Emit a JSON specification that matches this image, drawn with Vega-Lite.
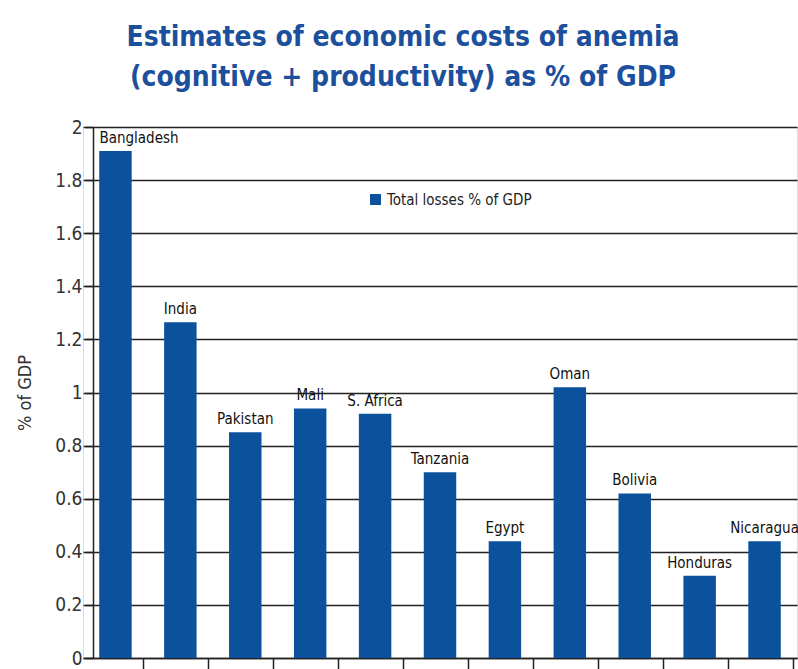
{
  "$schema": "https://vega.github.io/schema/vega-lite/v6.json",
  "autosize": "none",
  "width": 714,
  "height": 531,
  "padding": {"left": 83, "top": 127, "right": 1, "bottom": 11},
  "background": "white",
  "title": {
    "text": ["Estimates of economic costs of anemia", "(cognitive + productivity) as % of GDP"],
    "font": "DejaVu Sans Condensed, Liberation Sans Narrow, sans-serif",
    "fontSize": 28,
    "fontWeight": "bold",
    "color": "#1c4f9c",
    "lineHeight": 40,
    "anchor": "middle",
    "frame": "group",
    "dx": -37,
    "offset": 26
  },
  "data": {
    "values": [
      {"country": "Bangladesh", "value": 1.91},
      {"country": "India", "value": 1.265},
      {"country": "Pakistan", "value": 0.85},
      {"country": "Mali", "value": 0.94},
      {"country": "S. Africa", "value": 0.92},
      {"country": "Tanzania", "value": 0.70},
      {"country": "Egypt", "value": 0.44},
      {"country": "Oman", "value": 1.02},
      {"country": "Bolivia", "value": 0.62},
      {"country": "Honduras", "value": 0.31},
      {"country": "Nicaragua", "value": 0.44}
    ]
  },
  "encoding": {
    "x": {
      "field": "country",
      "type": "nominal",
      "sort": null,
      "scale": {"paddingInner": 0.5, "paddingOuter": 0.25},
      "axis": {
        "labels": false,
        "title": null,
        "tickOffset": 28,
        "tickSize": 11,
        "tickColor": "#222",
        "tickWidth": 1.5,
        "domainColor": "#222",
        "domainWidth": 1.5
      }
    },
    "y": {
      "field": "value",
      "type": "quantitative",
      "scale": {"domain": [0, 2], "nice": false},
      "axis": {
        "values": [0, 0.2, 0.4, 0.6, 0.8, 1, 1.2, 1.4, 1.6, 1.8, 2],
        "format": "~g",
        "offset": -10,
        "title": "% of GDP",
        "titleFont": "DejaVu Sans Condensed, Liberation Sans Narrow, sans-serif",
        "titleFontSize": 18,
        "titleFontWeight": "normal",
        "titleColor": "#333",
        "titlePadding": 20,
        "labelFont": "DejaVu Sans Condensed, Liberation Sans Narrow, sans-serif",
        "labelFontSize": 19,
        "labelColor": "#333",
        "labelPadding": 3,
        "tickSize": 8,
        "tickColor": "#222",
        "tickWidth": 1.5,
        "domainColor": "#222",
        "domainWidth": 1.5,
        "grid": true,
        "gridColor": "#222",
        "gridWidth": 1.5
      }
    }
  },
  "layer": [
    {
      "mark": {"type": "bar"},
      "encoding": {
        "color": {
          "datum": "Total losses % of GDP",
          "scale": {"range": ["#0b519c"]},
          "legend": {
            "title": null,
            "orient": "none",
            "legendX": 285,
            "legendY": 65,
            "symbolType": "square",
            "symbolSize": 120,
            "labelFont": "DejaVu Sans Condensed, Liberation Sans Narrow, sans-serif",
            "labelFontSize": 15,
            "labelColor": "#222"
          }
        }
      }
    },
    {
      "transform": [{"filter": "datum.country !== 'Bangladesh'"}],
      "mark": {"type": "text", "baseline": "bottom", "dy": -5, "font": "DejaVu Sans Condensed, Liberation Sans Narrow, sans-serif", "fontSize": 15, "color": "#111"},
      "encoding": {"text": {"field": "country"}}
    },
    {
      "transform": [{"filter": "datum.country === 'Bangladesh'"}],
      "mark": {"type": "text", "align": "left", "baseline": "bottom", "dy": -5, "dx": -16, "font": "DejaVu Sans Condensed, Liberation Sans Narrow, sans-serif", "fontSize": 15, "color": "#111"},
      "encoding": {"text": {"field": "country"}}
    }
  ]
}
